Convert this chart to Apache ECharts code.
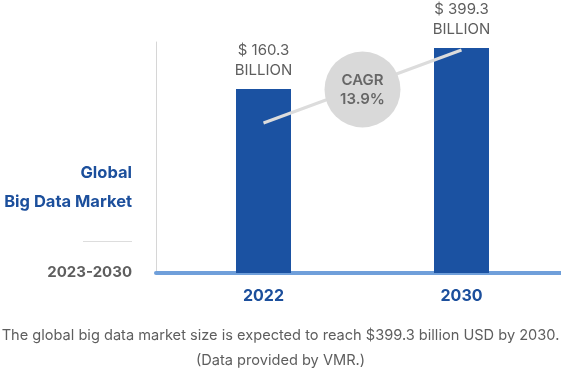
<!DOCTYPE html>
<html>
<head>
<meta charset="utf-8">
<script src="https://cdn.jsdelivr.net/npm/echarts@6/dist/echarts.min.js"></script>
<style>
html,body{margin:0;padding:0;background:#fff;}
#c{width:561px;height:370px;}
</style>
</head>
<body>
<div id="c"></div>
<script>
const categories = ['2022', '2030'];
const marketValues = [160.3, 399.3];
const cagrLabel = 'CAGR\n13.9%';
const titleLines = ['Global', 'Big Data Market'];
const periodLabel = '2023-2030';
const footnoteLines = [
  'The global big data market size is expected to reach $399.3 billion USD by 2030.',
  '(Data provided by VMR.)'
];

const FONT = 'Inter, "Noto Sans", sans-serif';
const BLUE = '#1b52a2';
const TEXT_BLUE = '#1c4f9c';
const GRAY = '#5e5e5e';

const chart = echarts.init(document.getElementById('c'), null, {renderer: 'canvas'});

const midValue = (marketValues[0] + marketValues[1]) / 2;

const option = {
  animation: false,
  backgroundColor: '#ffffff',
  textStyle: {fontFamily: FONT},
  grid: [
    {left: 164.5, right: 0.5, top: 42, bottom: 97, containLabel: false},
    {left: 156, right: 0, top: 42, bottom: 97, containLabel: false}
  ],
  xAxis: [
    {
      type: 'category', gridIndex: 0, data: categories,
      axisLine: {show: false}, axisTick: {show: false},
      axisLabel: {color: TEXT_BLUE, fontSize: 16, fontWeight: 'bold', fontFamily: FONT, margin: 15}
    },
    {type: 'value', gridIndex: 0, min: -0.5, max: 1.5, show: false},
    {
      type: 'value', gridIndex: 1, min: 0, max: 1, offset: 2.5,
      axisLine: {show: true, lineStyle: {color: '#6f9fda', width: 4}},
      axisTick: {show: false}, axisLabel: {show: false}, splitLine: {show: false}
    }
  ],
  yAxis: [
    {type: 'log', gridIndex: 0, min: 2.667, max: 456.2, show: false},
    {type: 'value', gridIndex: 0, min: -331, max: 425.5, show: false},
    {
      type: 'value', gridIndex: 1, min: 0, max: 1,
      axisLine: {show: true, lineStyle: {color: '#d6d6d6', width: 1}},
      axisTick: {show: false}, axisLabel: {show: false}, splitLine: {show: false}
    }
  ],
  series: [
    {
      type: 'bar', xAxisIndex: 0, yAxisIndex: 0, data: marketValues,
      barWidth: 55, clip: true, z: 2,
      itemStyle: {color: BLUE},
      label: {
        show: true, position: 'top', distance: 9,
        formatter: p => '$ ' + p.value + '\nBILLION',
        color: GRAY, fontSize: 15, lineHeight: 20, fontFamily: FONT
      }
    },
    {
      type: 'line', xAxisIndex: 0, yAxisIndex: 1, data: marketValues,
      symbol: 'none', z: 3,
      lineStyle: {color: '#dcdcdc', width: 3}
    },
    {
      type: 'scatter', xAxisIndex: 1, yAxisIndex: 1,
      data: [[0.5, midValue]],
      symbol: 'circle', symbolSize: 76, symbolOffset: [0, 3], z: 4,
      itemStyle: {color: '#d9d9d9', opacity: 1},
      label: {
        show: true, position: 'inside', formatter: cagrLabel,
        color: '#676767', fontSize: 15, lineHeight: 19, fontWeight: 600, fontFamily: FONT
      }
    }
  ],
  graphic: [
    {type: 'text', right: 561 - 132, top: 165, style: {text: titleLines[0], fill: TEXT_BLUE, font: 'bold 16.5px ' + FONT, textAlign: 'right'}},
    {type: 'text', right: 561 - 132, top: 194, style: {text: titleLines[1], fill: TEXT_BLUE, font: 'bold 16.5px ' + FONT, textAlign: 'right'}},
    {type: 'line', shape: {x1: 83, y1: 241.5, x2: 132, y2: 241.5}, style: {stroke: '#dddddd', lineWidth: 1}},
    {type: 'text', right: 561 - 132, top: 265, style: {text: periodLabel, fill: GRAY, font: 'bold 15px ' + FONT, textAlign: 'right'}},
    {type: 'text', left: 'center', top: 328, style: {text: footnoteLines[0], fill: GRAY, font: '14.6px ' + FONT, textAlign: 'center'}},
    {type: 'text', left: 'center', top: 353, style: {text: footnoteLines[1], fill: GRAY, font: '14.6px ' + FONT, textAlign: 'center'}}
  ]
};

chart.setOption(option);
</script>
</body>
</html>
